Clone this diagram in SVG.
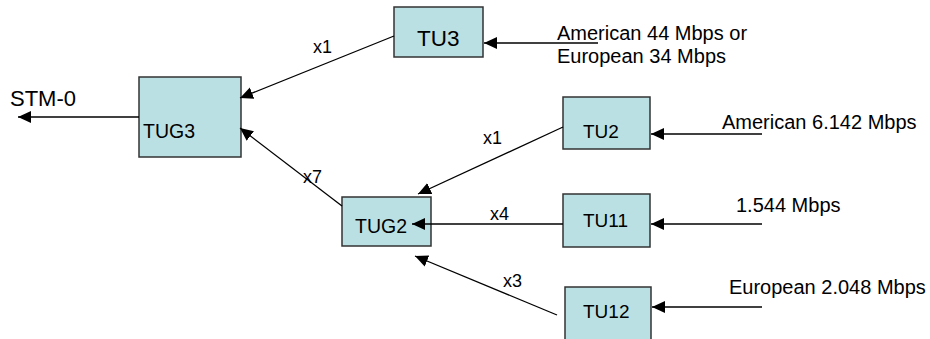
<svg xmlns="http://www.w3.org/2000/svg" width="930" height="339" viewBox="0 0 930 339">
<style>
.box{fill:#BBE0E3;stroke:#333;stroke-width:1.5}
.t{font-family:"Liberation Sans",Arial,sans-serif;fill:#000}
.edge{stroke:#000;stroke-width:1.3;fill:none;marker-end:url(#ah)}
</style>
<defs>
<marker id="ah" markerUnits="userSpaceOnUse" markerWidth="14" markerHeight="14" viewBox="0 0 14 12" refX="13" refY="6" orient="auto">
<path d="M0,0 L13,6 L0,12 z" fill="#000"/>
</marker>
</defs>
<rect width="930" height="339" fill="#fff"/>
<g id="stm0"><text class="t" x="10" y="106" font-size="22">STM-0</text></g>
<g id="tug3"><rect class="box" x="139" y="77" width="102" height="80"/><text class="t" x="143" y="138" font-size="19.5">TUG3</text></g>
<g id="tu3"><rect class="box" x="394" y="7" width="89" height="50"/><text class="t" x="417" y="46" font-size="22.5">TU3</text></g>
<g id="tu2"><rect class="box" x="563" y="97" width="87" height="52"/><text class="t" x="583" y="138" font-size="19">TU2</text></g>
<g id="tug2"><rect class="box" x="342" y="197" width="89" height="49"/><text class="t" x="355" y="233" font-size="19.5">TUG2</text></g>
<g id="tu11"><rect class="box" x="563" y="194" width="87" height="53"/><text class="t" x="583" y="227" font-size="19">TU11</text></g>
<g id="tu12"><rect class="box" x="565" y="287" width="86" height="60"/><text class="t" x="583" y="318" font-size="19">TU12</text></g>
<g id="in-tu3"><text class="t" font-size="20"><tspan x="557" y="40">American 44 Mbps or</tspan><tspan x="557" y="63">European 34 Mbps</tspan></text></g>
<g id="in-tu2"><text class="t" x="722" y="129" font-size="20">American 6.142 Mbps</text></g>
<g id="in-tu11"><text class="t" x="736" y="212" font-size="20">1.544 Mbps</text></g>
<g id="in-tu12"><text class="t" x="729" y="294" font-size="20">European 2.048 Mbps</text></g>
<g id="connectors">
<line class="edge" x1="139" y1="117" x2="18" y2="117"/>
<line class="edge" x1="394" y1="36" x2="240" y2="98"/>
<line class="edge" x1="342" y1="206" x2="240" y2="128"/>
<line class="edge" x1="563" y1="127" x2="418" y2="194"/>
<line class="edge" x1="563" y1="224" x2="412" y2="224"/>
<line class="edge" x1="557" y1="315" x2="415" y2="256"/>
<line class="edge" x1="598" y1="43" x2="484" y2="43"/>
<line class="edge" x1="762" y1="134" x2="651" y2="134"/>
<line class="edge" x1="762" y1="224" x2="651" y2="224"/>
<line class="edge" x1="762" y1="307" x2="652" y2="307"/>
<text class="t" x="313" y="53" font-size="18">x1</text>
<text class="t" x="483" y="144" font-size="18">x1</text>
<text class="t" x="303" y="183" font-size="18">x7</text>
<text class="t" x="490" y="220" font-size="18">x4</text>
<text class="t" x="503" y="287" font-size="18">x3</text>
</g>
</svg>
